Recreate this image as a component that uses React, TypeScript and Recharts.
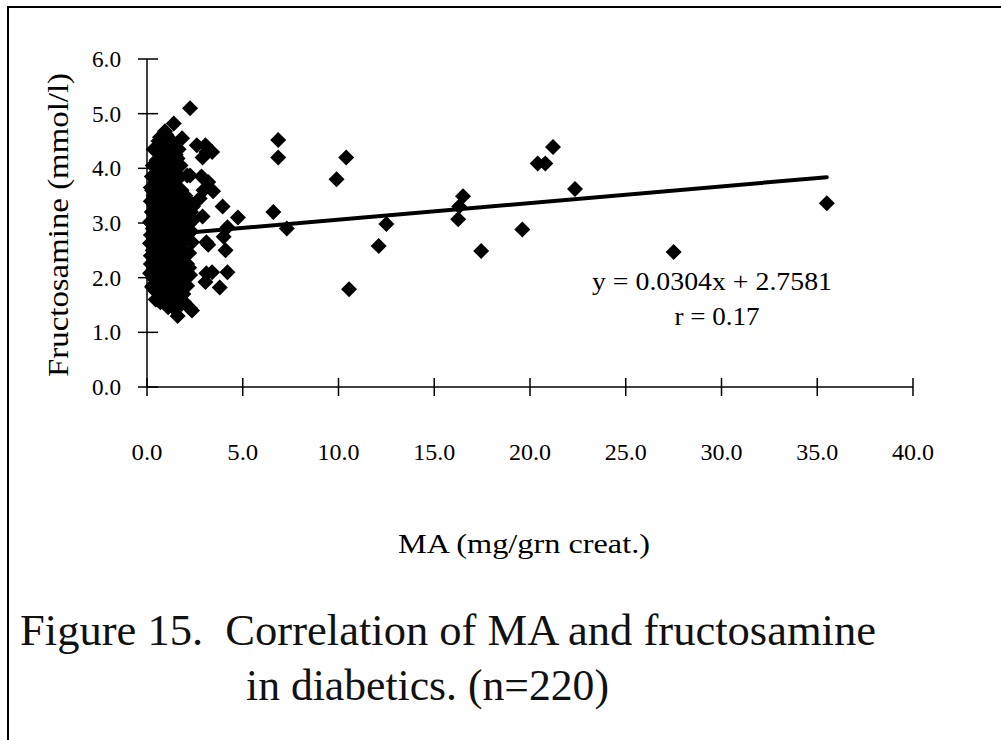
import { ScatterChart, Scatter, XAxis, YAxis, ReferenceLine } from 'recharts';

// MA (mg/grn creat.) vs fructosamine (mmol/l)
const denseGroup: [number, number][] = [
    [0.7, 4.42], [1.1, 4.45], [1.5, 4.38], [1.3, 4.5], [0.9, 4.3],
    [0.5, 4.15], [0.85, 4.2], [1.25, 4.1], [1.6, 4.18], [1.05, 4.0],
    [0.6, 3.95], [1.4, 3.92], [1.75, 4.05], [0.45, 3.75], [0.8, 3.8],
    [1.2, 3.7], [1.55, 3.78], [1.0, 3.6], [0.35, 3.5], [0.7, 3.55],
    [1.35, 3.52], [1.8, 3.6], [1.65, 3.4], [0.4, 3.3], [0.75, 3.35],
    [1.1, 3.3], [1.45, 3.25], [1.9, 3.3], [2.2, 3.25], [0.55, 3.15],
    [0.95, 3.1], [1.3, 3.05], [1.7, 3.1], [2.1, 3.0], [2.4, 3.05],
    [0.3, 2.9], [0.65, 2.92], [1.0, 2.85], [1.4, 2.9], [1.85, 2.85],
    [2.3, 2.85], [0.45, 2.75], [0.85, 2.7], [1.2, 2.72], [1.6, 2.68],
    [2.0, 2.7], [2.35, 2.65], [0.3, 2.5], [0.7, 2.55], [1.05, 2.5],
    [1.45, 2.45], [1.8, 2.52], [2.2, 2.45], [0.5, 2.35], [0.9, 2.3],
    [1.3, 2.35], [1.7, 2.3], [2.1, 2.25], [0.35, 2.15], [0.75, 2.1],
    [1.15, 2.12], [1.55, 2.05], [1.95, 2.1], [2.25, 2.05], [0.55, 1.95],
    [0.95, 1.9], [1.35, 1.95], [1.75, 1.88], [2.1, 1.85], [0.45, 1.75],
    [0.85, 1.7], [1.2, 1.72], [1.6, 1.68], [1.9, 1.7], [0.7, 1.55],
    [1.3, 1.55], [1.75, 1.5], [1.45, 1.42], [1.95, 1.55], [1.0, 4.62],
    [0.6, 4.5], [1.2, 3.95], [0.9, 3.45], [1.5, 3.15], [0.6, 2.6],
    [1.1, 2.0], [1.6, 1.95], [0.8, 3.0], [1.25, 2.6], [1.8, 2.2],
    [0.94, 4.68], [0.68, 4.57], [0.52, 4.33], [0.42, 3.9], [0.26, 3.6],
    [0.16, 3.02], [0.16, 2.63], [0.16, 2.08], [0.26, 1.83], [0.55, 1.6],
    [1.1, 1.46], [1.6, 1.3], [2.25, 1.44], [2.35, 1.4], [1.83, 4.55],
    [1.5, 4.25], [1.4, 4.82], [2.1, 3.87], [2.25, 3.87], [2.75, 3.45],
];

const coreGroup: [number, number][] = [
    [0.35, 4.35], [0.8, 4.38], [1.2, 4.3], [1.65, 4.35], [0.3, 4.05],
    [0.7, 4.08], [1.15, 4.02], [1.5, 4.05], [0.25, 3.85], [0.6, 3.82],
    [1.0, 3.85], [1.35, 3.8], [1.7, 3.85], [0.2, 3.65], [0.55, 3.65],
    [0.85, 3.62], [1.25, 3.6], [1.6, 3.62], [2.0, 3.5], [0.2, 3.4],
    [0.55, 3.42], [0.95, 3.4], [1.3, 3.38], [2.05, 3.45], [2.4, 3.3],
    [0.25, 3.2], [0.75, 3.2], [1.15, 3.18], [1.9, 3.15], [2.3, 3.2],
    [0.2, 3.0], [0.5, 3.0], [1.15, 2.98], [1.55, 2.98], [1.95, 2.98],
    [0.2, 2.78], [0.65, 2.8], [1.05, 2.78], [1.45, 2.78], [2.15, 2.8],
    [0.2, 2.62], [0.5, 2.62], [0.95, 2.6], [1.5, 2.6], [1.85, 2.62],
    [0.2, 2.4], [0.5, 2.45], [0.95, 2.42], [1.2, 2.45], [1.6, 2.4],
    [1.95, 2.38], [0.2, 2.25], [0.55, 2.22], [1.0, 2.2], [1.4, 2.22],
    [2.2, 2.18], [0.3, 2.0], [0.75, 1.98], [1.2, 2.0], [1.95, 1.97],
    [0.3, 1.85], [0.65, 1.82], [1.05, 1.8], [1.45, 1.8], [1.85, 1.78],
    [0.45, 1.6], [0.95, 1.58], [1.55, 1.6],
];

const spreadGroup: [number, number][] = [
    [2.25, 5.1], [2.6, 4.42], [3.05, 4.42], [3.4, 4.3], [2.9, 4.2],
    [3.1, 4.3], [2.85, 3.85], [3.2, 3.75], [3.45, 3.58], [2.95, 3.6],
    [3.95, 3.3], [4.75, 3.1], [2.9, 3.12], [4.2, 2.92], [4.0, 2.75],
    [4.1, 2.5], [3.2, 2.6], [3.1, 2.65], [3.4, 2.1], [4.2, 2.1],
    [3.8, 1.82], [3.05, 1.92], [3.1, 2.08], [6.85, 4.52], [6.85, 4.2],
    [6.6, 3.2], [7.3, 2.9], [9.9, 3.8], [10.4, 4.2], [10.55, 1.79],
    [12.1, 2.58], [12.5, 2.98], [16.3, 3.3], [16.5, 3.49], [16.25, 3.07],
    [17.45, 2.49], [19.6, 2.88], [20.4, 4.09], [20.8, 4.09], [21.2, 4.39],
    [22.35, 3.62], [27.5, 2.47], [35.5, 3.36],
];

const xTicks = [0, 5, 10, 15, 20, 25, 30, 35, 40];
const yTicks = [0, 1, 2, 3, 4, 5, 6];

// trendline reported in the figure
const slope = 0.0304;
const intercept = 2.7581;

const FONT = '"Liberation Serif", "Times New Roman", serif';

const points = [...denseGroup, ...coreGroup, ...spreadGroup].map(([x, y]) => ({ x, y }));
const xs = points.map((p) => p.x);
const xMin = Math.min(...xs);
const xMax = Math.max(...xs);

const Diamond = (props: any) => {
    const { cx, cy } = props;
    const r = 8;
    return (
        <polygon
            points={`${cx},${cy - r} ${cx + r},${cy} ${cx},${cy + r} ${cx - r},${cy}`}
            fill="#000"
        />
    );
};

const XTick = (props: any) => {
    const { x, y, payload } = props;
    return (
        <g>
            <line x1={x} y1={y - 9} x2={x} y2={y + 9} stroke="#000" strokeWidth={1.5} />
            <text x={x} y={y + 73} textAnchor="middle" fontFamily={FONT} fontSize={24} textLength={payload.value >= 10 ? 42 : 31} lengthAdjust="spacingAndGlyphs" fill="#000">
                {Number(payload.value).toFixed(1)}
            </text>
        </g>
    );
};

const YTick = (props: any) => {
    const { x, y, payload } = props;
    return (
        <g>
            <line x1={x - 9} y1={y} x2={x + 11} y2={y} stroke="#000" strokeWidth={1.5} />
            <text x={x - 26} y={y + 8} textAnchor="end" fontFamily={FONT} fontSize={23} textLength={29} lengthAdjust="spacingAndGlyphs" fill="#000">
                {Number(payload.value).toFixed(1)}
            </text>
        </g>
    );
};

export default function App() {
    return (
        <div
            style={{
                position: 'absolute',
                left: 0,
                top: 0,
                width: 1001,
                height: 740,
                background: '#fff',
                overflow: 'hidden',
            }}
        >
            {/* scanned page frame */}
            <div style={{ position: 'absolute', left: 7, top: 6, width: 994, height: 734, borderTop: '2px solid #000', borderLeft: '2px solid #000' }} />

            <div style={{ position: 'absolute', left: 0, top: 0 }}>
                <ScatterChart width={1001} height={600} margin={{ top: 59, right: 88, left: 0, bottom: 0 }}>
                    <XAxis
                        type="number"
                        dataKey="x"
                        domain={[0, 40]}
                        ticks={xTicks}
                        height={213}
                        tickLine={false}
                        tickSize={0}
                        tickMargin={0}
                        tick={<XTick />}
                        axisLine={{ stroke: '#000', strokeWidth: 1.5 }}
                        label={{
                            content: (p: any) => {
                                const vb = p.viewBox;
                                return (
                                    <text
                                        x={vb.x + vb.width / 2 - 6}
                                        y={vb.y + 166}
                                        textAnchor="middle"
                                        fontFamily={FONT}
                                        fontSize={28}
                                        textLength={252}
                                        lengthAdjust="spacingAndGlyphs"
                                        fill="#000"
                                    >
                                        MA (mg/grn creat.)
                                    </text>
                                );
                            },
                        }}
                    />
                    <YAxis
                        type="number"
                        dataKey="y"
                        domain={[0, 6]}
                        ticks={yTicks}
                        width={147}
                        tickLine={false}
                        tickSize={0}
                        tickMargin={0}
                        tick={<YTick />}
                        axisLine={{ stroke: '#000', strokeWidth: 1.5 }}
                        label={{
                            content: (p: any) => {
                                const vb = p.viewBox;
                                const cx = vb.x + 68;
                                const cy = vb.y + vb.height / 2 + 2;
                                return (
                                    <text
                                        x={cx}
                                        y={cy}
                                        transform={`rotate(-90 ${cx} ${cy})`}
                                        textAnchor="middle"
                                        fontFamily={FONT}
                                        fontSize={30}
                                        textLength={304}
                                        lengthAdjust="spacingAndGlyphs"
                                        fill="#000"
                                    >
                                        Fructosamine (mmol/l)
                                    </text>
                                );
                            },
                        }}
                    />
                    <Scatter data={points} shape={Diamond} isAnimationActive={false} />
                    <ReferenceLine
                        segment={[
                            { x: xMin, y: slope * xMin + intercept },
                            { x: xMax, y: slope * xMax + intercept },
                        ]}
                        stroke="#000"
                        strokeWidth={4}
                        strokeLinecap="round"
                        ifOverflow="visible"
                    />
                </ScatterChart>
            </div>

            {/* equation, correlation and figure caption */}
            <svg width={1001} height={740} style={{ position: 'absolute', left: 0, top: 0, pointerEvents: 'none' }}>
                <text x={712} y={290} textAnchor="middle" fontFamily={FONT} fontSize={25} textLength={240} lengthAdjust="spacingAndGlyphs" fill="#000">
                    y = 0.0304x + 2.7581
                </text>
                <text x={717} y={325} textAnchor="middle" fontFamily={FONT} fontSize={25} textLength={85} lengthAdjust="spacingAndGlyphs" fill="#000">
                    r = 0.17
                </text>
                <text x={20} y={645} fontFamily={FONT} fontSize={45} textLength={856} lengthAdjust="spacingAndGlyphs" fill="#111">
                    {'Figure 15.\u00a0 Correlation of MA and fructosamine'}
                </text>
                <text x={246} y={700} fontFamily={FONT} fontSize={45} textLength={363} lengthAdjust="spacingAndGlyphs" fill="#111">
                    in diabetics. (n=220)
                </text>
            </svg>
        </div>
    );
}
